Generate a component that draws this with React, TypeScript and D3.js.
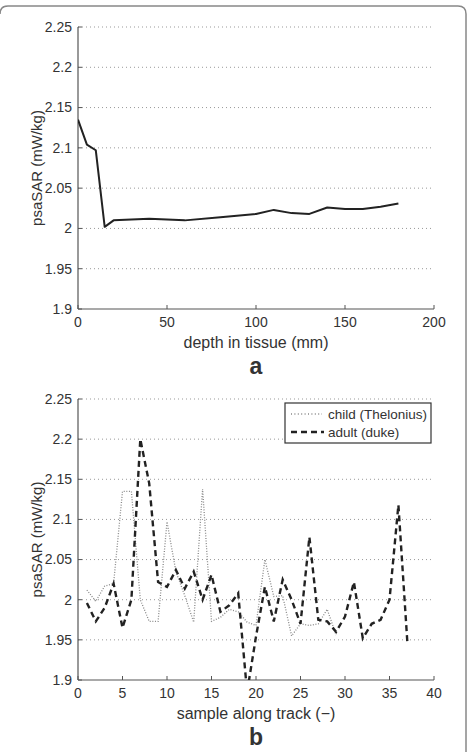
import React from "react";
import * as d3 from "d3";

// panel a: psaSAR vs depth
const depth = [0, 5, 10, 15, 20, 40, 60, 80, 100, 110, 120, 130, 140, 150, 160, 170, 180];
const depthSar = [2.135, 2.104, 2.097, 2.002, 2.010, 2.012, 2.010, 2.014, 2.018, 2.023, 2.019, 2.018, 2.026, 2.024, 2.024, 2.027, 2.031];

// panel b: psaSAR along track
const childSar = [2.012, 1.998, 2.017, 2.02, 2.135, 2.135, 2.0, 1.973, 1.973, 2.097, 2.035, 2.005, 1.972, 2.138, 1.973, 1.978, 1.988, 1.985, 1.972, 1.968, 2.05, 2.004, 2.005, 1.955, 1.97, 1.968, 1.97, 1.988, 1.956];
const adultSar = [1.996, 1.973, 1.99, 2.02, 1.965, 2.0, 2.2, 2.145, 2.022, 2.016, 2.037, 2.014, 2.035, 2.0, 2.031, 1.985, 1.993, 2.008, 1.885, 1.954, 2.016, 1.973, 2.025, 2.0, 1.97, 2.078, 1.975, 1.973, 1.96, 1.979, 2.022, 1.952, 1.97, 1.975, 2.0, 2.118, 1.948];

const yTicks = [1.9, 1.95, 2, 2.05, 2.1, 2.15, 2.2, 2.25];
const xTicksA = [0, 50, 100, 150, 200];
const xTicksB = [0, 5, 10, 15, 20, 25, 30, 35, 40];

const FONT = "'Liberation Sans', Arial, Helvetica, sans-serif";
const TXT = "#333";
const AX = "#555";

const left = 78;
const right = 434;

type PanelProps = {
  top: number;
  bottom: number;
  xDomain: [number, number];
  xTicks: number[];
  xLabel: string;
  letter: string;
  id: string;
  children: (x: d3.ScaleLinear<number, number>, y: d3.ScaleLinear<number, number>) => React.ReactNode;
};

function Panel({ top, bottom, xDomain, xTicks, xLabel, letter, id, children }: PanelProps) {
  const x = d3.scaleLinear().domain(xDomain).range([left, right]);
  const y = d3.scaleLinear().domain([1.9, 2.25]).range([bottom, top]);
  return (
    <g>
      <defs>
        <clipPath id={id}>
          <rect x={left} y={top} width={right - left} height={bottom - top} />
        </clipPath>
      </defs>
      {yTicks.map((t) => (
        <g key={"y" + t}>
          {t > 1.9 && (
            <line x1={left} x2={right} y1={y(t)} y2={y(t)} stroke="#999" strokeWidth={1} strokeDasharray="1,3" />
          )}
          <line x1={left} x2={left + 4} y1={y(t)} y2={y(t)} stroke={AX} />
          <text x={left - 6} y={y(t)} dy="0.35em" textAnchor="end" fontSize={14} fill={TXT} fontFamily={FONT}>
            {d3.format("")(t)}
          </text>
        </g>
      ))}
      {xTicks.map((t) => (
        <g key={"x" + t}>
          <line x1={x(t)} x2={x(t)} y1={bottom} y2={bottom - 4} stroke={AX} />
          <text x={x(t)} y={bottom + 18} textAnchor="middle" fontSize={14} fill={TXT} fontFamily={FONT}>
            {t}
          </text>
        </g>
      ))}
      <line x1={left} x2={left} y1={top} y2={bottom} stroke={AX} strokeWidth={1.2} />
      <line x1={left} x2={right} y1={bottom} y2={bottom} stroke={AX} strokeWidth={1.2} />
      <g clipPath={`url(#${id})`}>{children(x, y)}</g>
      <text
        transform={`translate(42,${(top + bottom) / 2}) rotate(-90)`}
        textAnchor="middle"
        fontSize={15}
        fill={TXT}
        fontFamily={FONT}
      >
        psaSAR (mW/kg)
      </text>
      <text x={(left + right) / 2} y={bottom + 39} textAnchor="middle" fontSize={16} fill={TXT} fontFamily={FONT}>
        {xLabel}
      </text>
      <text x={(left + right) / 2} y={bottom + 65} textAnchor="middle" fontSize={23} fontWeight="bold" fill={TXT} fontFamily={FONT}>
        {letter}
      </text>
    </g>
  );
}

export default function App() {
  return (
    <svg width={472} height={752} style={{ position: "absolute", left: 0, top: 0, background: "#fff" }}>
      <path d="M 0,14 Q 0,6 8,6 H 458 Q 466,6 466,14 V 752" fill="none" stroke="#888" strokeWidth={1.5} />
      <Panel top={27} bottom={309} xDomain={[0, 200]} xTicks={xTicksA} xLabel="depth in tissue (mm)" letter="a" id="clipA">
        {(x, y) => {
          const line = d3.line<number>().x((_, i) => x(depth[i])).y((d) => y(d));
          return <path d={line(depthSar) || ""} fill="none" stroke="#222" strokeWidth={2} strokeLinejoin="round" />;
        }}
      </Panel>
      <Panel top={399} bottom={680} xDomain={[0, 40]} xTicks={xTicksB} xLabel="sample along track (−)" letter="b" id="clipB">
        {(x, y) => {
          const line = d3.line<number>().x((_, i) => x(i + 1)).y((d) => y(d));
          return (
            <g>
              <path d={line(childSar) || ""} fill="none" stroke="#888" strokeWidth={1.3} strokeDasharray="1,1.6" />
              <path d={line(adultSar) || ""} fill="none" stroke="#222" strokeWidth={2.4} strokeDasharray="6,4" />
            </g>
          );
        }}
      </Panel>
      <g>
        <rect x={285} y={403} width={146} height={40} fill="#fff" stroke="#333" strokeWidth={1.2} />
        <line x1={291} x2={322} y1={414} y2={414} stroke="#888" strokeWidth={1.3} strokeDasharray="1,2.4" />
        <line x1={291} x2={324} y1={432} y2={432} stroke="#222" strokeWidth={2.4} strokeDasharray="6,4" />
        <text x={328} y={414} dy="0.35em" fontSize={13.5} fill={TXT} fontFamily={FONT}>child (Thelonius)</text>
        <text x={328} y={432} dy="0.35em" fontSize={13.5} fill={TXT} fontFamily={FONT}>adult (duke)</text>
      </g>
    </svg>
  );
}
